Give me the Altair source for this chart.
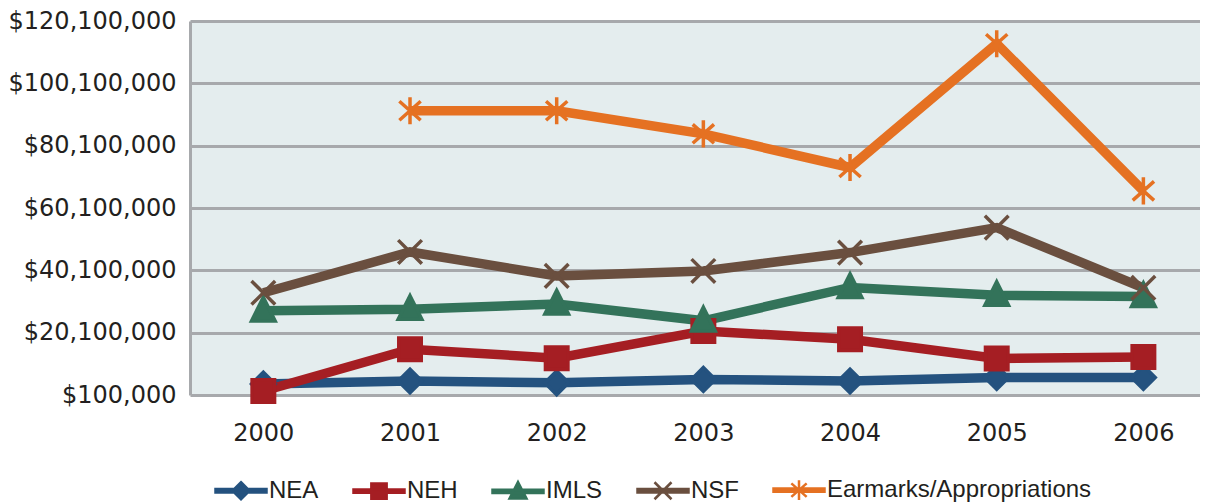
import altair as alt
import pandas as pd

years = [2000, 2001, 2002, 2003, 2004, 2005, 2006]
series = ["NEA", "NEH", "IMLS", "NSF", "Earmarks/Appropriations"]

nea = [3.6, 4.6, 4.0, 5.1, 4.6, 5.7, 5.7]
neh = [1.4, 14.8, 11.9, 20.6, 18.0, 11.8, 12.3]
imls = [27.1, 27.6, 29.3, 23.9, 34.6, 32.1, 31.7]
nsf = [32.9, 46.0, 38.3, 39.9, 45.8, 53.8, 34.5]
earmarks = [None, 91.3, 91.3, 83.9, 73.1, 112.8, 65.6]

y_ticks = [100000, 20100000, 40100000, 60100000, 80100000, 100100000, 120100000]

colors = ["#24527F", "#A51E23", "#33735A", "#6A4F3F", "#E57122"]

plot_shapes = [
    "M0,-1L1,0L0,1L-1,0Z",
    "M-0.95,-0.95H0.95V0.95H-0.95Z",
    "M0,-1.15L1,0.85L-1,0.85Z",
    "M-1,-1L1,1M-1,1L1,-1",
    "M-0.9,-0.8L0.9,0.8M-0.9,0.8L0.9,-0.8M0,-1.15L0,1.15",
]
bar = "M-1,-0.2H5V0.2H-1Z "
legend_shapes = [
    bar + "M2,-1L3,0L2,1L1,0Z",
    bar + "M1.1,-0.9H2.9V0.9H1.1Z",
    bar + "M2,-1.1L3,0.85L1,0.85Z",
    bar + "M1,-1L3,1M1,1L3,-1",
    bar + "M1.1,-0.8L2.9,0.8M1.1,0.8L2.9,-0.8M2,-1.15L2,1.15",
]

rows = []
for name, vals in zip(series, [nea, neh, imls, nsf, earmarks]):
    for yr, v in zip(years, vals):
        if v is not None:
            rows.append({"year": yr, "series": name, "value": v * 1_000_000 + 0.0})
df = pd.DataFrame(rows)

x = alt.X(
    "year:Q",
    scale=alt.Scale(domain=[1999.5, 2006.386], nice=False, zero=False),
    axis=alt.Axis(
        values=years, format="d", title=None, grid=False, ticks=False, tickSize=0,
        domain=False, labelFont="DejaVu Sans", labelFontSize=24, labelColor="#231F20",
        labelPadding=26,
    ),
)
y = alt.Y(
    "value:Q",
    scale=alt.Scale(domain=[100000, 120100000], nice=False, zero=False),
    axis=alt.Axis(
        values=y_ticks, format="$,.0f", title=None, ticks=False, tickSize=0,
        grid=True, gridColor="#A7A9AC", gridWidth=3, gridOpacity=1,
        domain=True, domainColor="#A7A9AC", domainWidth=3,
        labelFont="DejaVu Sans", labelFontSize=24, labelColor="#231F20", labelPadding=14,
    ),
)

cscale = alt.Scale(domain=series, range=colors)

base = alt.Chart(df)

lines = base.mark_line(strokeWidth=9.5, strokeJoin="miter").encode(
    x=x, y=y,
    color=alt.Color("series:N", scale=cscale, legend=None),
    order=alt.Order("year:Q"),
)

points = base.mark_point(filled=True, size=560, strokeWidth=3.5, opacity=1).encode(
    x=x, y=y,
    fill=alt.Fill("series:N", scale=cscale, legend=None),
    stroke=alt.Stroke("series:N", scale=cscale, legend=None),
    shape=alt.Shape("series:N", scale=alt.Scale(domain=series, range=plot_shapes), legend=None),
)

leg = alt.Legend(
    title=None, orient="none", direction="horizontal", columns=5,
    legendX=22, legendY=457,
    labelFont="Liberation Sans", labelFontSize=24, labelColor="#231F20",
    labelLimit=500,
    labelOffset=33, columnPadding=29, symbolSize=289, symbolStrokeWidth=2.5,
    symbolOpacity=1,
)

legend_layer = base.transform_filter("datum.value < 0").mark_point(
    filled=True, size=289, strokeWidth=2.5, opacity=1
).encode(
    x=x, y=y,
    fill=alt.Fill("series:N", scale=cscale, legend=leg),
    stroke=alt.Stroke("series:N", scale=cscale, legend=leg),
    shape=alt.Shape("series:N", scale=alt.Scale(domain=series, range=legend_shapes), legend=leg),
)

chart = alt.layer(lines, points, legend_layer).resolve_scale(
    fill="independent", stroke="independent", shape="independent"
).properties(
    width=1010, height=374,
    padding={"left": 0, "top": 1, "right": 0, "bottom": 0},
).configure_view(
    fill="#E4EDEE", stroke=None,
)

chart.save("out.html", embed_options={"renderer": "svg", "actions": False})
